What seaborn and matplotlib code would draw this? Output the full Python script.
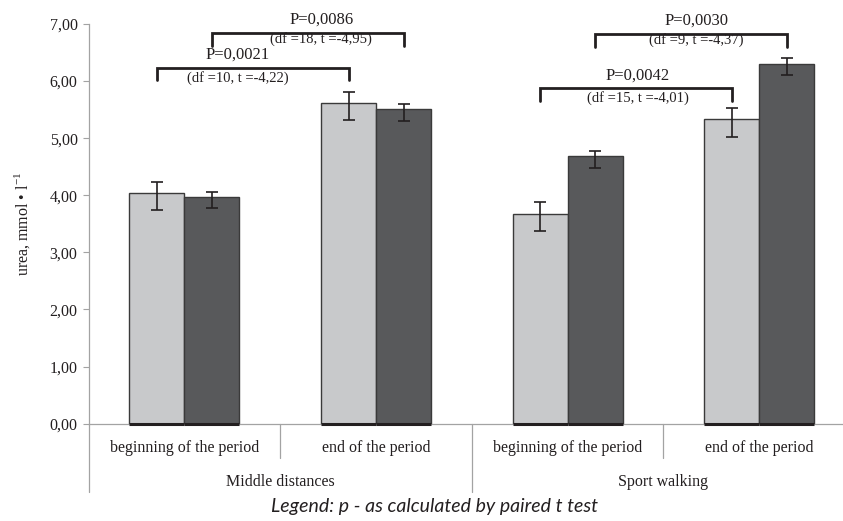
import pandas as pd
import matplotlib.pyplot as plt
import seaborn as sns

# Data
conditions = ["MD beginning", "MD end", "SW beginning", "SW end"]
period_labels = ["beginning of the period", "end of the period",
                 "beginning of the period", "end of the period"]
group_labels = ["Middle distances", "Sport walking"]
series = ["series 1", "series 2"]

urea_light = [4.04, 5.62, 3.68, 5.33]
urea_dark = [3.97, 5.51, 4.68, 6.30]
err_light_hi = [0.20, 0.19, 0.20, 0.20]
err_light_lo = [0.30, 0.30, 0.30, 0.31]
err_dark_hi = [0.09, 0.09, 0.10, 0.10]
err_dark_lo = [0.20, 0.21, 0.21, 0.20]

# brackets: series index, from condition, to condition, height, texts
br_series = [0, 1, 0, 1]
br_from = [0, 0, 2, 2]
br_to = [1, 1, 3, 3]
br_height = [6.23, 6.84, 5.87, 6.82]
br_p = ["P=0,0021", "P=0,0086", "P=0,0042", "P=0,0030"]
br_df = ["(df =10, t =-4,22)", "(df =18, t =-4,95)",
         "(df =15, t =-4,01)", "(df =9, t =-4,37)"]

df = pd.DataFrame({
    "condition": conditions * 2,
    "series": [series[0]] * 4 + [series[1]] * 4,
    "urea": urea_light + urea_dark,
})

sns.set_style("white")
plt.rcParams["font.family"] = ["Liberation Serif", "DejaVu Serif"]
plt.rcParams["mathtext.fontset"] = "custom"
plt.rcParams["mathtext.rm"] = "Liberation Serif"

light_c = "#c8c9cb"
dark_c = "#58595b"
ink = "#231f20"
axis_c = "#a3a3a3"

fig = plt.figure(figsize=(8.43, 5.21), dpi=100)
ax = fig.add_axes([0.1052, 0.1868, 0.909, 0.7672])

sns.barplot(data=df, x="condition", y="urea", hue="series",
            order=conditions, hue_order=series,
            palette=[light_c, dark_c], width=0.574, gap=0,
            edgecolor="#3a3a3a", linewidth=1.0, errorbar=None,
            legend=False, ax=ax)

# error bars and thick bar bottoms
errs = [(err_light_lo, err_light_hi), (err_dark_lo, err_dark_hi)]
centers = []
for cont, (lo, hi) in zip(ax.containers, errs):
    xs = [b.get_x() + b.get_width() / 2 for b in cont]
    hs = [b.get_height() for b in cont]
    centers.append(xs)
    ax.errorbar(xs, hs, yerr=[lo, hi], fmt="none", ecolor=ink,
                elinewidth=1.2, capsize=4, capthick=1.2, zorder=4)
    for b in cont:
        ax.plot([b.get_x(), b.get_x() + b.get_width()], [0, 0],
                color=ink, lw=2.2, solid_capstyle="butt", zorder=5, clip_on=False)

# significance brackets
p_dx = [-0.08, 0.07, 0.01, 0.03]
df_dy = [-0.17, -0.11, -0.17, -0.10]
drop = 0.22
for i in range(len(br_p)):
    x0 = centers[br_series[i]][br_from[i]]
    x1 = centers[br_series[i]][br_to[i]]
    y = br_height[i]
    ax.plot([x0, x0, x1, x1], [y - drop, y, y, y - drop], color=ink, lw=2.0,
            solid_joinstyle="miter", clip_on=False, zorder=6)
    xm = (x0 + x1) / 2 + p_dx[i]
    ax.text(xm, y + 0.23, br_p[i], ha="center", va="center", fontsize=12, color=ink)
    ax.text(xm, y + df_dy[i], br_df[i], ha="center", va="center", fontsize=10.5, color=ink)

# axes styling
ax.set_xlim(-0.5, 3.5)
ax.set_ylim(0, 7)
ax.set_yticks(range(0, 8))
ax.set_yticklabels([f"{v:.2f}".replace(".", ",") for v in range(0, 8)])
ax.tick_params(axis="y", direction="out", length=4, width=0.8, color=axis_c,
               labelsize=11.5, labelcolor=ink, pad=4, left=True)
ax.set_xticks(range(4))
ax.set_xticklabels(period_labels)
ax.tick_params(axis="x", length=0, labelsize=11.5, labelcolor=ink, pad=12)
ax.set_xlabel("")
ax.set_ylabel(r"urea, mmol • l$^{\mathregular{-1}}$", fontsize=11.5, color=ink, labelpad=13)

for side in ["top", "right"]:
    ax.spines[side].set_visible(False)
for side in ["left", "bottom"]:
    ax.spines[side].set_color(axis_c)
    ax.spines[side].set_linewidth(0.9)

# category separators and group labels
tr = ax.get_xaxis_transform()
for xb in [0.5, 2.5]:
    ax.plot([xb, xb], [0, -0.086], color=axis_c, lw=0.9, transform=tr, clip_on=False)
for xb in [-0.5, 1.5, 3.5]:
    ax.plot([xb, xb], [0, -0.171], color=axis_c, lw=0.9, transform=tr, clip_on=False)
for xg, lab in zip([0.5, 2.5], group_labels):
    ax.text(xg, -0.146, lab, transform=tr, ha="center", va="center",
            fontsize=11.5, color=ink)

fig.text(0.516, 0.027, "Legend: p - as calculated by paired t test",
         ha="center", va="center", fontsize=14, style="italic",
         family=["Lato", "DejaVu Sans"], color=ink)

fig.savefig("out.png", dpi=100)
